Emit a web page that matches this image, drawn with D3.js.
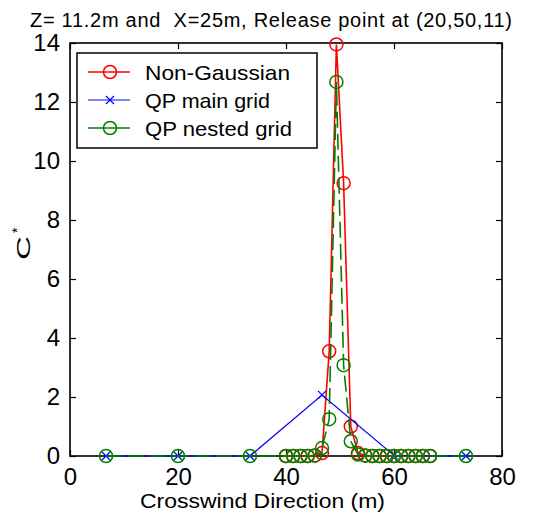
<!DOCTYPE html>
<html><head><meta charset="utf-8">
<script src="https://cdn.jsdelivr.net/npm/d3@7/dist/d3.min.js"></script>
<style>
html,body{margin:0;padding:0;background:#fff;}
text{font-family:"Liberation Sans",Arial,sans-serif;}
</style></head>
<body><svg id="chart" width="544" height="512"></svg>
<script>
// ---- data ----
const xTicks = [0, 20, 40, 60, 80];
const yTicks = [0, 2, 4, 6, 8, 10, 12, 14];
const titleText = "Z= 11.2m and  X=25m, Release point at (20,50,11)";
const xLabel = "Crosswind Direction (m)";
const seriesNames = ["Non-Gaussian", "QP main grid", "QP nested grid"];

const nonGaussX = [40, 41.33, 42.67, 44, 45.33, 46.67, 48, 49.33, 50.67, 52, 53.33, 54.67, 56, 57.33, 58.67, 60, 61.33, 62.67, 64, 65.33, 66.67];
const nonGaussY = [0, 0, 0, 0, 0.01, 0.1, 3.55, 13.95, 9.25, 1.0, 0.1, 0.02, 0, 0, 0, 0, 0, 0, 0, 0, 0];

const mainX = [6.67, 20, 33.33, 46.67, 60, 73.33];
const mainY = [0, 0, 0, 2.07, 0.02, 0];

const nestedX = [6.67, 20, 33.33, 40, 41.33, 42.67, 44, 45.33, 46.67, 48, 49.33, 50.67, 52, 53.33, 54.67, 56, 57.33, 58.67, 60, 61.33, 62.67, 64, 65.33, 66.67, 73.33];
const nestedY = [0, 0, 0, 0, 0, 0, 0, 0.02, 0.27, 1.25, 12.68, 3.08, 0.5, 0.05, 0.01, 0, 0, 0, 0, 0, 0, 0, 0, 0, 0];

// ---- chart ----
const svg = d3.select("#chart");
svg.append("rect").attr("width",544).attr("height",512).attr("fill","#fff");
const L = 70, R = 502, T = 43, B = 456;
const x = d3.scaleLinear().domain([0, 80]).range([L, R]);
const y = d3.scaleLinear().domain([0, 14]).range([B, T]);

// title
svg.append("text").attr("x", 30).attr("y", 27)
  .attr("font-size", 20).attr("textLength", 482).attr("lengthAdjust","spacing")
  .style("white-space","pre").attr("fill","#000").text(titleText);

// axes
const gx = svg.append("g").attr("transform", `translate(0,${B})`)
  .call(d3.axisBottom(x).tickValues(xTicks).tickSize(-6).tickPadding(12).tickFormat(d3.format("d")));
const gy = svg.append("g").attr("transform", `translate(${L},0)`)
  .call(d3.axisLeft(y).tickValues(yTicks).tickSize(-6).tickPadding(10).tickFormat(d3.format("d")));
const gt = svg.append("g").attr("transform", `translate(0,${T})`)
  .call(d3.axisTop(x).tickValues(xTicks).tickSize(-6).tickFormat(""));
const gr = svg.append("g").attr("transform", `translate(${R},0)`)
  .call(d3.axisRight(y).tickValues(yTicks).tickSize(-6).tickFormat(""));
[gx, gy, gt, gr].forEach(g => {
  g.select(".domain").remove();
  g.selectAll(".tick line").attr("stroke", "#000").attr("stroke-width", 1.2);
  g.selectAll(".tick text").attr("font-size", 24).attr("fill", "#000")
    .style("font-family", '"Liberation Sans",Arial,sans-serif');
});
svg.append("rect").attr("x", L).attr("y", T).attr("width", R - L).attr("height", B - T)
  .attr("fill", "none").attr("stroke", "#000").attr("stroke-width", 1.6);

// x label
svg.append("text").attr("x", 140).attr("y", 508).attr("font-size", 21)
  .attr("textLength", 245).attr("lengthAdjust","spacingAndGlyphs").attr("fill","#000").text(xLabel);
// y label C*
const yl = svg.append("g").attr("transform", "translate(30,260) rotate(-90)");
yl.append("text").attr("x", 0).attr("y", 0).attr("font-size", 18)
  .attr("textLength", 24).attr("lengthAdjust","spacingAndGlyphs").attr("fill","#000").text("C");
yl.append("text").attr("x", 27).attr("y", -8).attr("font-size", 14).attr("fill","#000").text("*");

// plot layer
const plot = svg.append("g");
const line = d3.line().x(d => x(d[0])).y(d => y(d[1]));
function circles(g, pts, color) {
  g.selectAll(null).data(pts).enter().append("circle")
    .attr("cx", d => x(d[0])).attr("cy", d => y(d[1])).attr("r", 6.5)
    .attr("fill", "none").attr("stroke", color).attr("stroke-width", 1.5);
}
function crosses(g, pts, color) {
  const s = 4;
  g.selectAll(null).data(pts).enter().append("path")
    .attr("d", d => { const cx = x(d[0]), cy = y(d[1]);
      return `M${cx-s},${cy-s}L${cx+s},${cy+s}M${cx-s},${cy+s}L${cx+s},${cy-s}`; })
    .attr("stroke", color).attr("stroke-width", 1.2).attr("fill","none");
}
const ngPts = nonGaussX.map((v, i) => [v, nonGaussY[i]]);
const mainPts = mainX.map((v, i) => [v, mainY[i]]);
const nestPts = nestedX.map((v, i) => [v, nestedY[i]]);

const RED = "#ff0000", BLUE = "#0000ff", GREEN = "#008000";
plot.append("path").attr("d", line(ngPts)).attr("fill","none").attr("stroke", RED).attr("stroke-width", 1.6);
circles(plot, ngPts, RED);
plot.append("path").attr("d", line(mainPts)).attr("fill","none").attr("stroke", BLUE).attr("stroke-width", 1.2);
crosses(plot, mainPts, BLUE);
plot.append("path").attr("d", line(nestPts)).attr("fill","none").attr("stroke", GREEN)
  .attr("stroke-width", 1.6).attr("stroke-dasharray", "16,6");
circles(plot, nestPts, GREEN);

// legend
const lg = svg.append("g");
lg.append("rect").attr("x", 77).attr("y", 53).attr("width", 240).attr("height", 95)
  .attr("fill", "#fff").attr("stroke", "#000").attr("stroke-width", 1.5);
const rows = [72, 100, 128];
const colors = [RED, BLUE, GREEN];
const widths = [145, 125, 147];
seriesNames.forEach((name, i) => {
  const cy = rows[i];
  lg.append("line").attr("x1", 88).attr("x2", 130).attr("y1", cy).attr("y2", cy)
    .attr("stroke", colors[i]).attr("stroke-width", i === 1 ? 1.2 : 1.6);
  if (i === 1) {
    const s = 4;
    lg.append("path").attr("d", `M${110-s},${cy-s}L${110+s},${cy+s}M${110-s},${cy+s}L${110+s},${cy-s}`)
      .attr("stroke", BLUE).attr("stroke-width", 1.2);
  } else {
    lg.append("circle").attr("cx", 110).attr("cy", cy).attr("r", 6.5)
      .attr("fill", "none").attr("stroke", colors[i]).attr("stroke-width", 1.5);
  }
  lg.append("text").attr("x", 145).attr("y", cy + 7.5).attr("font-size", 21)
    .attr("textLength", widths[i]).attr("lengthAdjust","spacingAndGlyphs").attr("fill","#000").text(name);
});
</script></body></html>
